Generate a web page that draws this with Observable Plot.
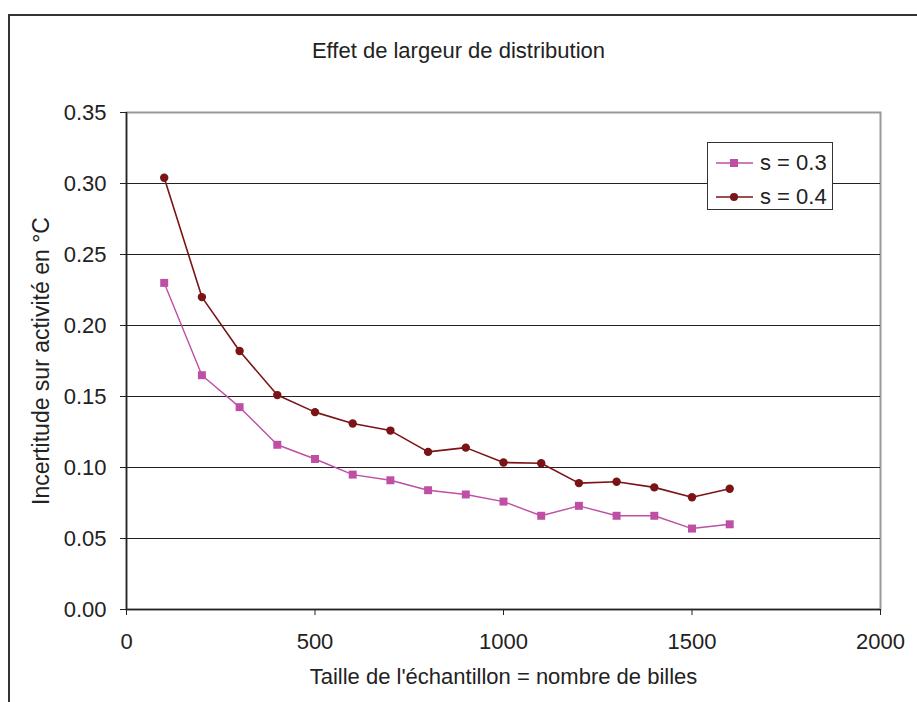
<!DOCTYPE html>
<html>
<head>
<meta charset="utf-8">
<script src="https://cdn.jsdelivr.net/npm/d3@7"></script>
<script src="https://cdn.jsdelivr.net/npm/@observablehq/plot@0.6"></script>
<style>
  html, body { margin: 0; padding: 0; background: #fff; }
  #wrap { position: relative; width: 917px; height: 702px; overflow: hidden; font-family: "Liberation Sans", Arial, sans-serif; color: #222; }
  #outer { position: absolute; left: 8px; top: 14px; width: 1000px; height: 800px; border-left: 2px solid #333; border-top: 2px solid #333; }
  #title { position: absolute; left: 0; width: 917px; top: 40px; text-align: center; font-size: 22px; line-height: 1; }
  #chart { position: absolute; left: 0; top: 0; }
  #legend { position: absolute; left: 707px; top: 142px; width: 124px; height: 66px; border: 1.5px solid #333; background: #fff; }
  .row { position: absolute; left: 0; height: 30px; width: 124px; font-size: 22px; line-height: 30px; }
  .row svg { position: absolute; left: 8px; top: 0; }
  .row span { position: absolute; left: 52px; top: 0; }
</style>
</head>
<body>
<div id="wrap">
  <div id="outer"></div>
  <div id="chart"></div>
  <div id="title"></div>
  <div id="legend"></div>
</div>
<script>
const titleText = "Effet de largeur de distribution";
const xLabel = "Taille de l'échantillon = nombre de billes";
const yLabel = "Incertitude sur activité en °C";

const sizes = [100, 200, 300, 400, 500, 600, 700, 800, 900, 1000, 1100, 1200, 1300, 1400, 1500, 1600];
const s03 = [0.230, 0.165, 0.1425, 0.116, 0.106, 0.095, 0.091, 0.084, 0.081, 0.076, 0.066, 0.073, 0.066, 0.066, 0.057, 0.060];
const s04 = [0.304, 0.220, 0.182, 0.151, 0.139, 0.131, 0.126, 0.111, 0.114, 0.1035, 0.103, 0.089, 0.090, 0.086, 0.079, 0.085];
const seriesNames = ["s = 0.3", "s = 0.4"];
const seriesColors = ["#BE4FA4", "#7A1416"];
const xTicks = [0, 500, 1000, 1500, 2000];
const yTicks = [0, 0.05, 0.10, 0.15, 0.20, 0.25, 0.30, 0.35];

const d03 = sizes.map((x, i) => ({x, y: s03[i]}));
const d04 = sizes.map((x, i) => ({x, y: s04[i]}));

document.getElementById("title").textContent = titleText;

const plot = Plot.plot({
  width: 917,
  height: 702,
  marginLeft: 126,
  marginRight: 37,
  marginTop: 112,
  marginBottom: 93,
  style: { fontFamily: "'Liberation Sans', Arial, sans-serif", fontSize: "22px", color: "#222", background: "transparent" },
  x: { domain: [0, 2000] },
  y: { domain: [0, 0.35] },
  marks: [
    Plot.frame({ stroke: "#999", strokeWidth: 2 }),
    Plot.gridY(yTicks.filter(d => d > 0 && d < 0.35), { stroke: "#222", strokeOpacity: 1, strokeWidth: 1.2 }),
    Plot.axisY(yTicks, { tickSize: 6, tickPadding: 14, tickFormat: d3.format(".2f"), stroke: "#222", label: null }),
    Plot.axisY({ ticks: [], label: yLabel, labelAnchor: "center", labelArrow: "none", labelOffset: 94, fontSize: "23px" }),
    Plot.axisX(xTicks, { tickSize: 6, tickPadding: 18, tickFormat: d3.format("d"), stroke: "#222", label: xLabel, labelAnchor: "center", labelArrow: "none", labelOffset: 74 }),
    Plot.ruleY([0], { stroke: "#222", strokeWidth: 1.5 }),
    Plot.ruleX([0], { stroke: "#222", strokeWidth: 1.5 }),
    Plot.line(d03, { x: "x", y: "y", stroke: seriesColors[0], strokeWidth: 1.4 }),
    Plot.dot(d03, { x: "x", y: "y", symbol: "square", r: 4.5, fill: seriesColors[0], stroke: "none" }),
    Plot.line(d04, { x: "x", y: "y", stroke: seriesColors[1], strokeWidth: 1.6 }),
    Plot.dot(d04, { x: "x", y: "y", symbol: "circle", r: 4.2, fill: seriesColors[1], stroke: "none" })
  ]
});
document.getElementById("chart").appendChild(plot);

// legend
const legend = document.getElementById("legend");
const rowTops = [5, 39];
seriesNames.forEach((name, i) => {
  const row = document.createElement("div");
  row.className = "row";
  row.style.top = rowTops[i] + "px";
  const marker = i === 0
    ? `<rect x="14" y="11" width="8" height="8" fill="${seriesColors[i]}"/>`
    : `<circle cx="18" cy="15" r="4" fill="${seriesColors[i]}"/>`;
  row.innerHTML = `<svg width="38" height="30"><line x1="0" x2="37" y1="15" y2="15" stroke="${seriesColors[i]}" stroke-width="1.5"/>${marker}</svg><span>${name}</span>`;
  legend.appendChild(row);
});
</script>
</body>
</html>
